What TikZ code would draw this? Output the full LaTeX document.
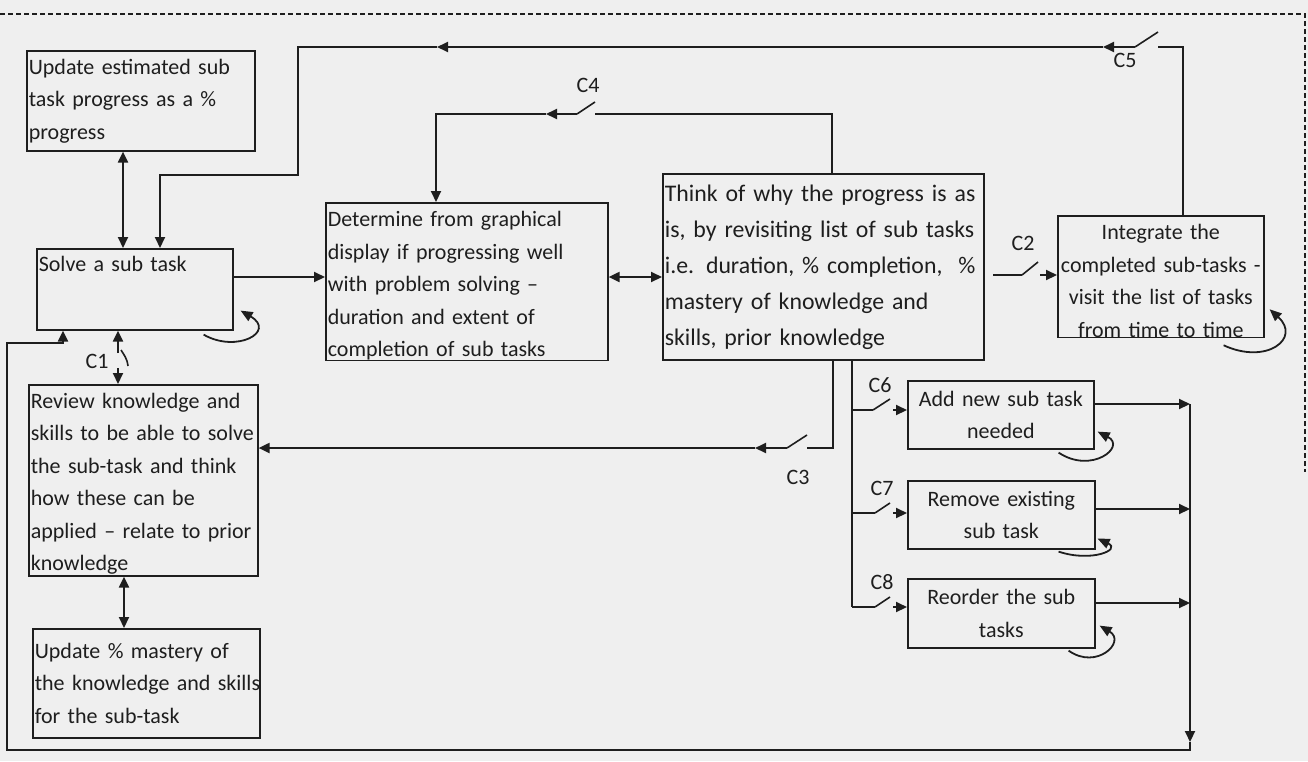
\documentclass[tikz,border=0pt]{standalone}
\usepackage{fontspec}
\setmainfont{Carlito}
\usetikzlibrary{arrows.meta}
\definecolor{ink}{HTML}{1E1E1E}
\definecolor{paper}{HTML}{EFEFEF}
% a line of box text that never wraps
\newcommand{\oneline}[1]{\mbox{#1}}

\begin{document}
\begin{tikzpicture}[x=1pt,y=-1pt,
  every node/.style={text=ink},
  box/.style={draw=ink, line width=1.6pt, anchor=north west, inner xsep=2pt,
    inner ysep=0pt, align=left, font=\fontsize{22}{32.5}\selectfont},
  cbox/.style={box, align=center},
  wire/.style={draw=ink, line width=2pt},
  arr/.style={wire, -{Triangle[length=11pt,width=10pt]}},
  dbl/.style={wire, {Triangle[length=11pt,width=10pt]}-{Triangle[length=11pt,width=10pt]}},
  blade/.style={draw=ink, line width=1.6pt},
  loop/.style={draw=ink, line width=1.8pt, -{Triangle[length=12pt,width=10pt]}},
  tag/.style={font=\fontsize{22}{24}\selectfont, inner sep=0pt},
]
% page and frame
\fill[paper] (0,0) rectangle (1308,761);
\useasboundingbox (0,0) rectangle (1308,761);
\draw[ink, line width=1.2pt, dash pattern=on 5pt off 3pt] (0,14) -- (1305,14) -- (1305,472);

% ---------- boxes ----------
\node[box, text width=224pt, minimum height=100pt] (upd) at (26,50)
  {\oneline{Update estimated sub}\\\oneline{task progress as a \%}\\progress};
\node[box, text width=192pt, minimum height=81pt, text height=19pt, text depth=54pt] (solve) at (36,248)
  {Solve a sub task};
\node[box, text width=225pt, minimum height=191pt] (review) at (28,384)
  {\oneline{\rule{0pt}{22pt}Review knowledge and}\\\oneline{skills to be able to solve}\\\oneline{the sub-task and think}\\\oneline{how these can be}\\\oneline{applied – relate to prior}\\knowledge};
\node[box, text width=223pt, minimum height=109pt] (master) at (32,628)
  {\oneline{Update \% mastery of}\\\oneline{the knowledge and skills}\\\oneline{for the sub-task}};
\node[box, text width=278pt, minimum height=153pt] (graph) at (325,202)
  {\oneline{\rule{0pt}{24pt}Determine from graphical}\\\oneline{display if progressing well}\\\oneline{with problem solving –}\\\oneline{duration and extent of}\\\oneline{completion of sub tasks}};
\node[box, font=\fontsize{23.8}{36}\selectfont, text width=317pt, minimum height=186pt] (think) at (662,173)
  {\oneline{Think of why the progress is as}\\\oneline{is, by revisiting list of sub tasks}\\\oneline{i.e. duration, \% completion,\ \ \%}\\\oneline{mastery of knowledge and}\\\oneline{skills, prior knowledge}};
\node[cbox, text width=202pt, minimum height=120pt] (integ) at (1057,215)
  {\oneline{\rule{0pt}{24pt}Integrate the}\\\oneline{completed sub-tasks -}\\\oneline{visit the list of tasks}\\\oneline{from time to time}};
\node[cbox, text width=182pt, minimum height=68pt] (addt) at (907,380)
  {\oneline{Add new sub task}\\needed};
\node[cbox, text width=183pt, minimum height=68pt] (remt) at (907,480)
  {\oneline{Remove existing}\\\oneline{sub task}};
\node[cbox, text width=183pt, minimum height=69pt] (reord) at (907,578)
  {\oneline{Reorder the sub}\\tasks};

% ---------- switch labels ----------
\node[tag] (c1lab) at (97,361) {C1};
\node[tag] (c2lab) at (1023,243) {C2};
\node[tag] (c3lab) at (798,477) {C3};
\node[tag] (c4lab) at (588,85) {C4};
\node[tag] (c5lab) at (1125,60) {C5};
\node[tag] (c6lab) at (880,385) {C6};
\node[tag] (c7lab) at (882,488) {C7};
\node[tag] (c8lab) at (882,582) {C8};

% ---------- connectors ----------
% progress estimate <-> solving
\draw[dbl] (123,0 |- upd.south) -- (123,0 |- solve.north);

% C5: back from integration to solving
\coordinate (c5r) at (1158,47);
\coordinate (c5l) at (1135,47);
\coordinate (c5t) at (1158,32);
\coordinate (c5a) at (1103,47);
\coordinate (c5b) at (437,47);
\draw[wire] (1183,0 |- integ.north) -- (1183,47) -- (c5r);
\draw[blade] (c5l) -- (c5t);
\draw[arr] (c5l) -- (c5a);
\draw[arr] (c5a) -- (c5b);
\draw[arr] (c5b) -- (298,47) -- (298,175) -- (160,175) -- (160,0 |- solve.north);

% C4: back from reflection to the graphical display
\coordinate (c4r) at (595,114);
\coordinate (c4l) at (577,114);
\coordinate (c4t) at (595,102);
\coordinate (c4a) at (546,114);
\draw[wire] (832,0 |- think.north) -- (832,114) -- (c4r);
\draw[blade] (c4l) -- (c4t);
\draw[arr] (c4l) -- (c4a);
\draw[arr] (c4a) -- (436,114) -- (436,0 |- graph.north);

% main chain
\draw[arr] (solve.east |- 0,277) -- (graph.west |- 0,277);
\draw[dbl] (graph.east |- 0,277) -- (think.west |- 0,277);

% C2: on to integration
\coordinate (c2s) at (993,275);
\coordinate (c2k) at (1022,275);
\coordinate (c2t) at (1038,262);
\coordinate (c2o) at (1040,275);
\draw[wire] (c2s) -- (c2k);
\draw[blade] (c2k) -- (c2t);
\draw[arr] (c2o) -- (integ.west |- c2o);

% C3: back to reviewing knowledge
\coordinate (c3r) at (807,448);
\coordinate (c3l) at (787,448);
\coordinate (c3t) at (807,435);
\coordinate (c3a) at (755,448);
\draw[wire] (833,0 |- think.south) -- (833,448) -- (c3r);
\draw[blade] (c3l) -- (c3t);
\draw[arr] (c3l) -- (c3a);
\draw[arr] (c3a) -- (review.east |- c3a);

% C6, C7, C8: editing the list of sub tasks
\coordinate (c6s) at (852,410);
\coordinate (c7s) at (852,513);
\coordinate (c8s) at (852,607);
\draw[wire] (852,0 |- think.south) -- (c8s);
\coordinate (c6k) at (873,410); \coordinate (c6t) at (890,399); \coordinate (c6o) at (893,410);
\coordinate (c7k) at (875,513); \coordinate (c7t) at (890,503); \coordinate (c7o) at (893,513);
\coordinate (c8k) at (875,607); \coordinate (c8t) at (890,597); \coordinate (c8o) at (893,607);
\draw[wire] (c6s) -- (c6k); \draw[blade] (c6k) -- (c6t); \draw[arr] (c6o) -- (addt.west |- c6o);
\draw[wire] (c7s) -- (c7k); \draw[blade] (c7k) -- (c7t); \draw[arr] (c7o) -- (remt.west |- c7o);
\draw[wire] (c8s) -- (c8k); \draw[blade] (c8k) -- (c8t); \draw[arr] (c8o) -- (reord.west |- c8o);

% collected return to solving
\coordinate (rtop) at (1190,404);
\coordinate (rmid) at (1190,509);
\coordinate (rbot) at (1190,603);
\coordinate (rdn) at (1190,742);
\draw[arr] (addt.east |- rtop) -- (rtop);
\draw[arr] (remt.east |- rmid) -- (rmid);
\draw[arr] (reord.east |- rbot) -- (rbot);
\draw[arr] (rtop) -- (rdn);
\draw[arr] (rdn) -- (1190,750) -- (7,750) -- (7,343) -- (63,343) -- (63,0 |- solve.south);

% C1: solving <-> reviewing
\coordinate (c1u) at (118,353);
\coordinate (c1d) at (118,368);
\draw[arr] (c1u) -- (118,0 |- solve.south);
\draw[blade] (121,350) .. controls (124,355) and (127,358) .. (128,366);
\draw[arr] (c1d) -- (118,0 |- review.north);

% reviewing <-> mastery update
\draw[dbl] (124,0 |- review.south) -- (124,0 |- master.north);

% ---------- self loops ----------
\draw[loop] ([shift={(-30,4)}]solve.south east) .. controls +(33,19) and +(36,21) .. ([shift={(7,-20)}]solve.south east);
\draw[loop] ([shift={(-41,7)}]integ.south east) .. controls +(43,20) and +(32,29) .. ([shift={(5,-29)}]integ.south east);
\draw[loop] ([shift={(-36,3)}]addt.south east) .. controls +(33,22) and +(29,15) .. ([shift={(3,-18)}]addt.south east);
\draw[loop] ([shift={(-37,2)}]remt.south east) .. controls +(33,11) and +(24,11) .. ([shift={(2,-11)}]remt.south east);
\draw[loop] ([shift={(-27,2)}]reord.south east) .. controls +(28,20) and +(27,16) .. ([shift={(4,-23)}]reord.south east);
\end{tikzpicture}
\end{document}
